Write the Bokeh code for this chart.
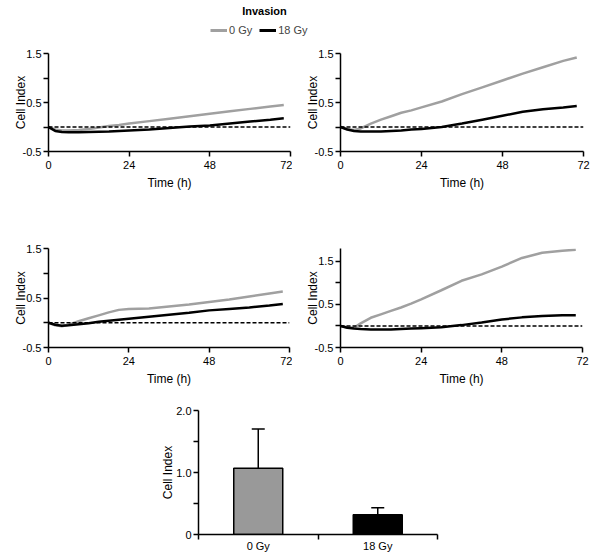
from bokeh.plotting import figure
from bokeh.layouts import column, row
from bokeh.models import (Range1d, FixedTicker, Span, Label, Legend, LegendItem,
                          Whisker, ColumnDataSource, TeeHead, Spacer)
from bokeh.embed import file_html
from bokeh.resources import INLINE

FONT = "Liberation Sans"
GRAY_LINE = "#a0a0a0"
GRAY_BAR = "#999999"
NAN = float("nan")

# ---------------- data ----------------
hours = [0, 2, 4, 6, 9, 12, 15, 18, 21, 24, 30, 36, 42, 48, 54, 60, 66, 70]

p1_0gy = [0.0, -0.05, -0.07, -0.07, -0.06, -0.04, -0.01, 0.02, 0.04, 0.07, 0.12, 0.17, 0.22, 0.27, 0.32, 0.37, 0.42, 0.45]
p1_18gy = [0.0, -0.08, -0.10, -0.105, -0.105, -0.10, -0.095, -0.09, -0.08, -0.07, -0.05, -0.02, 0.01, 0.03, 0.07, 0.11, 0.15, 0.18]

p2_0gy = [0.0, -0.04, -0.06, -0.03, 0.07, 0.15, 0.22, 0.29, 0.34, 0.40, 0.52, 0.67, 0.81, 0.95, 1.09, 1.22, 1.35, 1.42]
p2_18gy = [0.0, -0.05, -0.08, -0.09, -0.09, -0.09, -0.08, -0.07, -0.05, -0.04, 0.0, 0.07, 0.15, 0.23, 0.31, 0.36, 0.40, 0.43]

p3_0gy = [0.0, -0.05, -0.07, -0.04, 0.03, 0.09, 0.15, 0.21, 0.26, 0.28, 0.29, 0.33, 0.37, 0.42, 0.47, 0.53, 0.59, 0.63]
p3_18gy = [0.0, -0.04, -0.06, -0.05, -0.03, -0.01, 0.02, 0.04, 0.06, 0.08, 0.12, 0.16, 0.20, 0.25, 0.28, 0.31, 0.35, 0.38]

p4_0gy = [0.0, -0.03, -0.04, 0.06, 0.19, 0.27, 0.35, 0.43, 0.52, 0.62, 0.83, 1.05, 1.20, 1.38, 1.58, 1.70, 1.75, 1.77]
p4_18gy = [0.0, -0.04, -0.06, -0.07, -0.08, -0.08, -0.08, -0.07, -0.06, -0.05, -0.03, 0.02, 0.08, 0.15, 0.20, 0.23, 0.25, 0.25]

x_ticks = [0, 24, 48, 72]
y_ticks = [-0.5, 0.5, 1.5]
y_minor = [0.0, 1.0]

groups = ["0 Gy", "18 Gy"]
bar_mean = [1.07, 0.32]
bar_upper = [1.70, 0.43]
bar_colors = [GRAY_BAR, "black"]
bar_y_ticks = [0, 1, 2]
bar_y_labels = ["0", "1.0", "2.0"]
bar_y_minor = [0.5, 1.5]


def style_axes(p, ylab_standoff):
    for ax in (p.xaxis[0], p.yaxis[0]):
        ax.axis_line_width = 1.5
        ax.major_tick_line_width = 1.5
        ax.minor_tick_line_width = 1.5
        ax.major_tick_out = 5
        ax.major_tick_in = 0
        ax.minor_tick_out = 5
        ax.minor_tick_in = 0
        ax.major_label_text_font = FONT
        ax.major_label_text_font_size = "11px"
        ax.major_label_text_color = "black"
        ax.axis_label_text_font = FONT
        ax.axis_label_text_font_size = "12px"
        ax.axis_label_text_font_style = "normal"
        ax.axis_label_text_color = "black"
    p.xaxis[0].major_label_standoff = 4
    p.xaxis[0].axis_label_standoff = 4
    p.yaxis[0].major_label_standoff = 2
    p.yaxis[0].axis_label_standoff = ylab_standoff
    p.xgrid.visible = False
    p.ygrid.visible = False
    p.outline_line_color = None


def panel(y1, g, k, width, height, left, right, top, bottom):
    p = figure(width=width, height=height, output_backend="svg", toolbar_location=None,
               x_range=Range1d(0, 72), y_range=Range1d(-0.5, y1),
               min_border_left=left, min_border_right=right,
               min_border_top=top, min_border_bottom=bottom)
    p.background_fill_color = None
    p.border_fill_color = None
    p.add_layout(Span(location=0, dimension="width", line_color="black",
                      line_dash="4 2", line_width=1.5))
    p.line(hours, g, line_color=GRAY_LINE, line_width=2.5)
    p.line(hours, k, line_color="black", line_width=2.5)
    p.xaxis.ticker = FixedTicker(ticks=x_ticks, minor_ticks=[])
    p.yaxis.ticker = FixedTicker(ticks=y_ticks, minor_ticks=y_minor)
    p.yaxis.major_label_overrides = {v: ("%g" % v) for v in y_ticks}
    p.xaxis.axis_label = "Time (h)"
    p.yaxis.axis_label = "Cell Index"
    style_axes(p, -8)
    return p


# ---------------- header (title + legend) ----------------
SP, HH = 202, 44
HW = 592 - SP
hdr = figure(width=HW, height=HH, output_backend="svg", toolbar_location=None,
             x_range=Range1d(0, HW), y_range=Range1d(HH, 0),
             x_axis_location=None, y_axis_location=None,
             min_border=0, min_border_left=0, min_border_right=0,
             min_border_top=0, min_border_bottom=0)
hdr.outline_line_color = None
hdr.background_fill_color = None
hdr.border_fill_color = None
hdr.xgrid.visible = False
hdr.ygrid.visible = False
r_g = hdr.line([NAN], [NAN], line_color=GRAY_LINE, line_width=3)
r_k = hdr.line([NAN], [NAN], line_color="black", line_width=3)
hdr.add_layout(Label(x=264 - SP, y=4, text="Invasion", text_align="center", text_baseline="top",
                     text_font=FONT, text_font_size="11px", text_font_style="bold",
                     text_color="black"))
leg = Legend(items=[LegendItem(label=groups[0], renderers=[r_g]),
                    LegendItem(label=groups[1], renderers=[r_k])],
             orientation="horizontal", location="bottom_left")
leg.border_line_color = None
leg.background_fill_alpha = 0
leg.padding = 0
leg.margin = 8
leg.spacing = 7
leg.glyph_width = 17
leg.glyph_height = 12
leg.label_height = 12
leg.label_width = 10
leg.label_standoff = 2
leg.label_text_font = FONT
leg.label_text_font_size = "11px"
hdr.add_layout(leg, "center")
header = row(Spacer(width=SP, height=HH), hdr)

# ---------------- time course panels ----------------
pA = panel(1.5, p1_0gy, p1_18gy, 292, 156, 48, 2, 9, 48)
pB = panel(1.5, p2_0gy, p2_18gy, 300, 156, 48, 9, 8, 49)
pC = panel(1.5, p3_0gy, p3_18gy, 292, 195, 48, 3, 48, 48)
pD = panel(1.8, p4_0gy, p4_18gy, 300, 195, 48, 10, 33, 48)

# ---------------- bar chart ----------------
bx = [i + 0.5 for i in range(len(groups))]
src = ColumnDataSource(dict(x=bx, top=bar_mean, upper=bar_upper, color=bar_colors))
pE = figure(width=592, height=162, output_backend="svg", toolbar_location=None,
            x_range=Range1d(0, len(groups)), y_range=Range1d(0, 2),
            min_border_left=198, min_border_right=155, min_border_top=15, min_border_bottom=23)
pE.background_fill_color = None
pE.border_fill_color = None
pE.vbar(x="x", top="top", width=0.41, bottom=0, fill_color="color", line_color="black",
        line_width=1.5, source=src)
pE.add_layout(Whisker(source=src, base="x", lower="top", upper="upper", dimension="height",
                      line_color="black", line_width=1.5,
                      upper_head=TeeHead(size=13, line_color="black", line_width=1.5),
                      lower_head=None))
pE.xaxis.ticker = FixedTicker(ticks=bx, minor_ticks=list(range(len(groups) + 1)))
pE.xaxis.major_label_overrides = {v: g for v, g in zip(bx, groups)}
pE.yaxis.ticker = FixedTicker(ticks=bar_y_ticks, minor_ticks=bar_y_minor)
pE.yaxis.major_label_overrides = {v: s for v, s in zip(bar_y_ticks, bar_y_labels)}
pE.yaxis.axis_label = "Cell Index"
style_axes(pE, -2)
pE.xaxis.major_tick_out = 0
pE.xaxis.major_label_standoff = 0

layout = column(header, row(pA, pB), row(pC, pD), pE)
open("out.html", "w").write(file_html(layout, INLINE))
